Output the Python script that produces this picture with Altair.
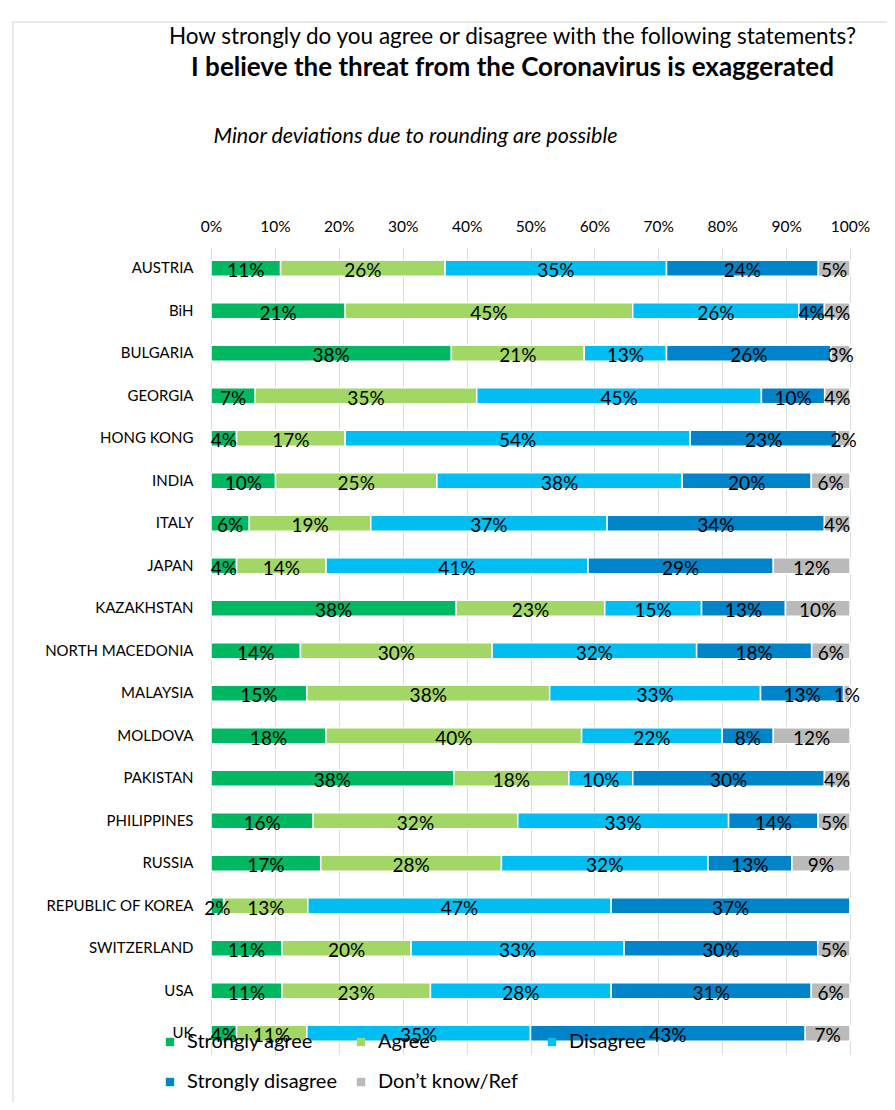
import altair as alt
import pandas as pd

countries = ["AUSTRIA", "BiH", "BULGARIA", "GEORGIA", "HONG KONG", "INDIA", "ITALY",
             "JAPAN", "KAZAKHSTAN", "NORTH MACEDONIA", "MALAYSIA", "MOLDOVA", "PAKISTAN",
             "PHILIPPINES", "RUSSIA", "REPUBLIC OF KOREA", "SWITZERLAND", "USA", "UK"]
categories = ["Strongly agree", "Agree", "Disagree", "Strongly disagree", "Don’t know/Ref"]
strongly_agree = [11, 21, 38, 7, 4, 10, 6, 4, 38, 14, 15, 18, 38, 16, 17, 2, 11, 11, 4]
agree = [26, 45, 21, 35, 17, 25, 19, 14, 23, 30, 38, 40, 18, 32, 28, 13, 20, 23, 11]
disagree = [35, 26, 13, 45, 54, 38, 37, 41, 15, 32, 33, 22, 10, 33, 32, 47, 33, 28, 35]
strongly_disagree = [24, 4, 26, 10, 23, 20, 34, 29, 13, 18, 13, 8, 30, 14, 13, 37, 30, 31, 43]
dont_know = [5, 4, 3, 4, 2, 6, 4, 12, 10, 6, 1, 12, 4, 5, 9, 0, 5, 6, 7]
colors = ["#00B862", "#A2D665", "#00BDF2", "#0084C9", "#BABABA"]
tick_values = [0, 0.1, 0.2, 0.3, 0.4, 0.5, 0.6, 0.7, 0.8, 0.9, 1.0]

series = [strongly_agree, agree, disagree, strongly_disagree, dont_know]
rows = []
for ci, c in enumerate(countries):
    for k, cat in enumerate(categories):
        rows.append({"country": c, "category": cat, "order": k, "value": series[k][ci]})
df = pd.DataFrame(rows)

FONT = "Lato"

x_axis = alt.Axis(
    orient="top", format="%", values=tick_values, grid=True, gridColor="#DCDCDC",
    domain=False, ticks=False, tickSize=0, labelFont=FONT, labelFontSize=15.5,
    labelColor="black", labelPadding=13, labelFlush=False,
    title="Minor deviations due to rounding are possible", titleFont=FONT,
    titleFontStyle="italic", titleFontWeight="normal", titleFontSize=21.5,
    titleColor="black", titleAnchor="start", titleAlign="left", titleX=2,
    titleY=-111, titleBaseline="middle",
)
y_enc = alt.Y(
    "country:N", sort=countries, title=None,
    scale=alt.Scale(paddingInner=0.624, paddingOuter=0.312),
    axis=alt.Axis(labelFont=FONT, labelFontSize=15, labelColor="black",
                  labelPadding=18, ticks=False, domain=False),
)

base = alt.Chart(df).transform_stack(
    stack="value", groupby=["country"], sort=[alt.SortField("order")],
    offset="normalize", as_=["v0", "v1"],
).transform_calculate(mid="(datum.v0 + datum.v1) / 2", label="datum.value + '%'")

bars = base.mark_bar(stroke="white", strokeWidth=1.5).encode(
    x=alt.X("v0:Q", scale=alt.Scale(domain=[0, 1], nice=False), axis=x_axis),
    x2="v1:Q",
    y=y_enc,
    color=alt.Color(
        "category:N", scale=alt.Scale(domain=categories, range=colors),
        legend=alt.Legend(
            title=None, orient="none", legendX=-51, legendY=785,
            direction="horizontal", columns=3, symbolType="square", symbolSize=70,
            symbolStrokeWidth=0, labelFont=FONT, labelFontSize=20, labelColor="black",
            labelOffset=7, columnPadding=13, rowPadding=20, gridAlign="all", padding=0,
            labelLimit=300,
        ),
    ),
    order=alt.Order("order:Q"),
)

texts = base.transform_filter("datum.value > 0").mark_text(
    font=FONT, fontSize=19, dy=3, color="black"
).encode(
    x=alt.X("mid:Q", axis=x_axis),
    y=y_enc,
    text="label:N",
)

frame = alt.Chart(alt.Data(values=[{}])).mark_rect(
    fill="white", fillOpacity=0, stroke="#E2E2E2", strokeWidth=1.5
).encode(
    x=alt.value(-198), x2=alt.value(720), y=alt.value(-225), y2=alt.value(900)
)

chart = alt.layer(frame, bars, texts).properties(
    width=639, height=807.5,
    padding={"left": 203, "top": 239, "right": 37, "bottom": 47},
    autosize=alt.AutoSizeParams(type="none"),
    title=alt.TitleParams(
        text="How strongly do you agree or disagree with the following statements?",
        subtitle="I believe the threat from the Coronavirus is exaggerated",
        font=FONT, fontSize=22.5, fontWeight="normal", color="black",
        subtitleFont=FONT, subtitleFontSize=26, subtitleFontWeight="bold",
        subtitleColor="black", subtitlePadding=7, anchor="middle", frame="group",
        dx=-18, offset=-60,
    ),
).configure_view(strokeWidth=0)

chart.save("out.html", embed_options={"renderer": "svg", "actions": False})
